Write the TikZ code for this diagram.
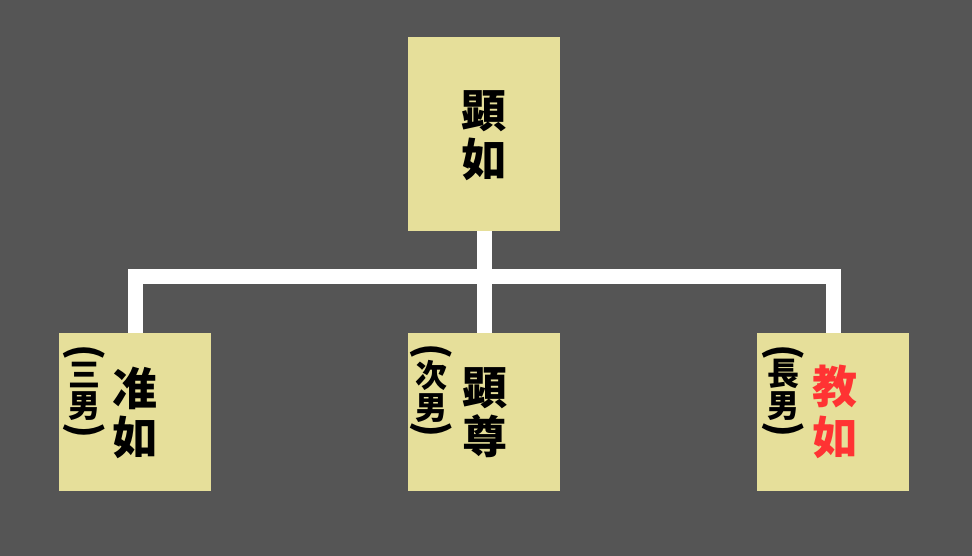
\documentclass[tikz,border=0pt]{standalone}
\usepackage{fontspec}
\usetikzlibrary{backgrounds}
\newfontfamily\cjk{Noto Sans CJK JP}
\definecolor{bg}{HTML}{555555}
\definecolor{boxc}{HTML}{E6DF9A}
\definecolor{redc}{HTML}{FF3333}
\tikzset{
  person/.style={draw=none,fill=boxc,minimum width=152pt,inner sep=0pt},
  bigc/.style={inner sep=0pt,font=\cjk\bfseries\fontsize{45}{48}\selectfont},
  smallc/.style={inner sep=0pt,font=\cjk\bfseries\fontsize{32}{34}\selectfont},
  parc/.style={inner sep=0pt,rotate=-90,font=\cjk\bfseries\fontsize{40}{42}\selectfont},
  link/.style={draw=white,line width=15pt,line join=miter}
}
\begin{document}
\begin{tikzpicture}[x=1pt,y=-1pt]
\useasboundingbox (0,0) rectangle (972,556);
% boxes
\node[person,minimum height=194pt] (top) at (484,134) {};
\node[person,minimum height=158pt] (l) at (135,412) {};
\node[person,minimum height=158pt] (m) at (484,412) {};
\node[person,minimum height=158pt] (r) at (833,412) {};
% background and connectors
\coordinate (j) at (484,276);
\begin{scope}[on background layer]
\fill[bg] (0,0) rectangle (972,556);
\draw[link] (top.south) -- (j);
\draw[link] (j) -- (m.north);
\draw[link] (l.north) |- (j) -| (r.north);
\end{scope}
% top text
\node[bigc] (t1) at (484,111) {顕};
\node[bigc] (t2) at (484,159) {如};
% left
\node[bigc] (l1) at (135,388) {准};
\node[bigc] (l2) at (135,437) {如};
\node[parc] (lp1) at (84,352) {(};
\node[smallc] (ls1) at (84,375) {三};
\node[smallc] (ls2) at (84,406) {男};
\node[parc] (lp2) at (84,430) {)};
% middle
\node[bigc] (m1) at (485,388) {顕};
\node[bigc] (m2) at (485,436) {尊};
\node[parc] (mp1) at (431,351) {(};
\node[smallc] (ms1) at (431,375) {次};
\node[smallc] (ms2) at (431,408) {男};
\node[parc] (mp2) at (431,429) {)};
% right
\node[bigc,text=redc] (r1) at (835,386) {教};
\node[bigc,text=redc] (r2) at (835,437) {如};
\node[parc] (rp1) at (783,352) {(};
\node[smallc] (rs1) at (783,374) {長};
\node[smallc] (rs2) at (783,406) {男};
\node[parc] (rp2) at (783,429) {)};
\end{tikzpicture}
\end{document}
